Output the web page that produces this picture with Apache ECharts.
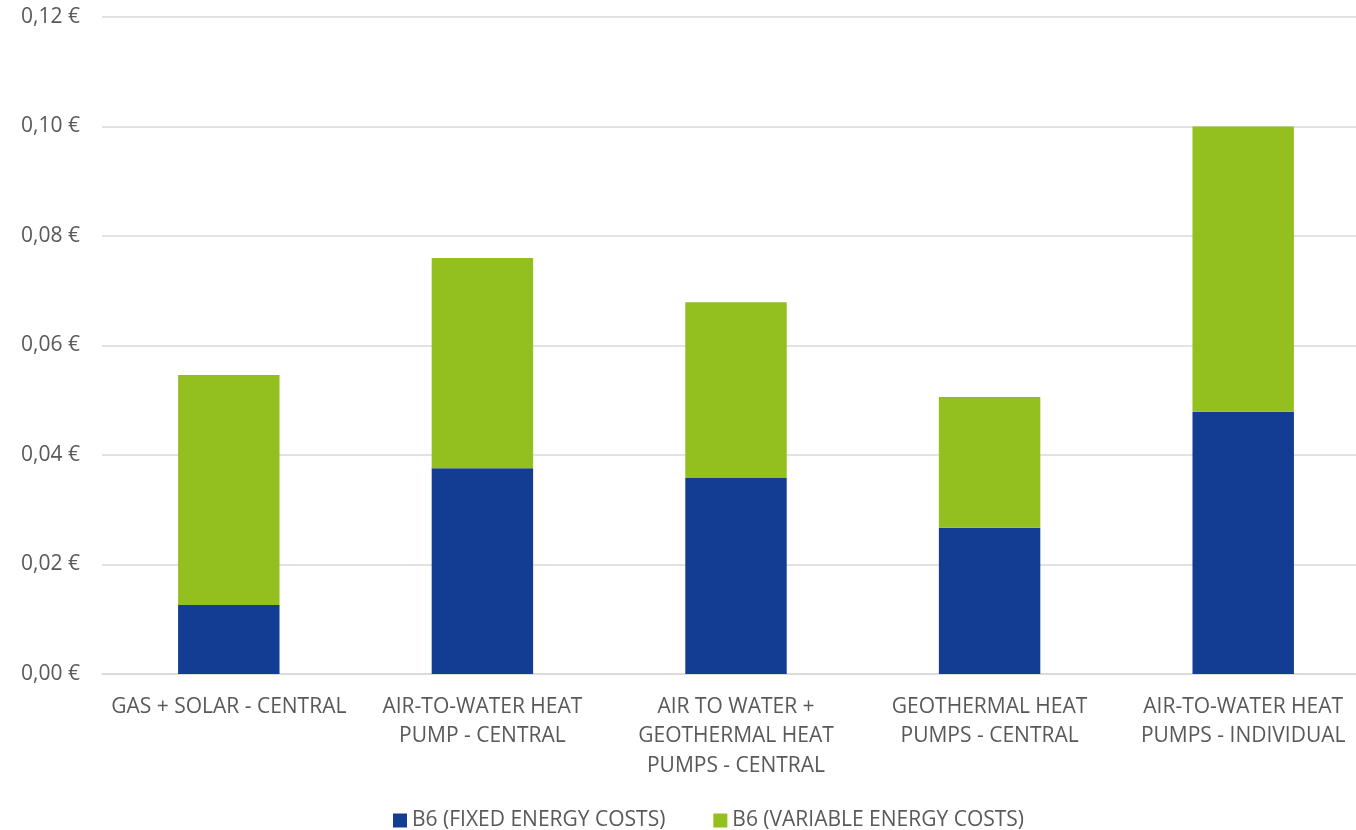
<!DOCTYPE html>
<html>
<head>
<meta charset="utf-8">
<script src="https://cdn.jsdelivr.net/npm/echarts@6/dist/echarts.min.js"></script>
<style>
html,body{margin:0;padding:0;background:#fff;}
#main{width:1356px;height:830px;}
</style>
</head>
<body>
<div id="main"></div>
<script>
var categories = ['GAS + SOLAR - CENTRAL', 'AIR-TO-WATER HEAT\nPUMP - CENTRAL', 'AIR TO WATER +\nGEOTHERMAL HEAT\nPUMPS - CENTRAL', 'GEOTHERMAL HEAT\nPUMPS - CENTRAL', 'AIR-TO-WATER HEAT\nPUMPS - INDIVIDUAL'];
var fixedCosts = [0.0126, 0.0376, 0.0358, 0.0267, 0.0479];
var variableCosts = [0.0420, 0.0384, 0.0321, 0.0239, 0.0521];
var seriesNames = ['B6 (FIXED ENERGY COSTS)', 'B6 (VARIABLE ENERGY COSTS)'];

var chartDom = document.getElementById('main');
var myChart = echarts.init(chartDom);
var font = '"Open Sans", sans-serif';
var option = {
    backgroundColor: '#fff',
    animation: false,
    grid: {
        top: 17,
        left: 102,
        width: 1268,
        height: 657,
        containLabel: false,
        outerBoundsMode: 'none'
    },
    legend: {
        bottom: -6,
        left: 388,
        icon: 'rect',
        itemWidth: 14,
        itemHeight: 14,
        itemGap: 48,
        textStyle: {
            color: '#595959',
            fontSize: 21,
            fontFamily: font
        },
        data: seriesNames
    },
    xAxis: {
        type: 'category',
        data: categories,
        axisLine: { lineStyle: { color: '#d9d9d9', width: 1.5 } },
        axisTick: { show: false },
        axisLabel: {
            color: '#595959',
            fontSize: 21,
            fontFamily: font,
            lineHeight: 29.5,
            margin: 18,
            interval: 0
        }
    },
    yAxis: {
        type: 'value',
        min: 0,
        max: 0.12,
        interval: 0.02,
        axisLine: { show: false },
        axisTick: { show: false },
        splitLine: { lineStyle: { color: '#d9d9d9', width: 1.5 } },
        axisLabel: {
            color: '#595959',
            fontSize: 21,
            fontFamily: font,
            margin: 22,
            formatter: function (v) {
                return v.toFixed(2).replace('.', ',') + ' €';
            }
        }
    },
    series: [
        {
            name: seriesNames[0],
            type: 'bar',
            stack: 'total',
            barWidth: '40%',
            itemStyle: { color: '#123d92' },
            data: fixedCosts
        },
        {
            name: seriesNames[1],
            type: 'bar',
            stack: 'total',
            barWidth: '40%',
            itemStyle: { color: '#93bf1f' },
            data: variableCosts
        }
    ]
};
option && myChart.setOption(option);
</script>
</body>
</html>
